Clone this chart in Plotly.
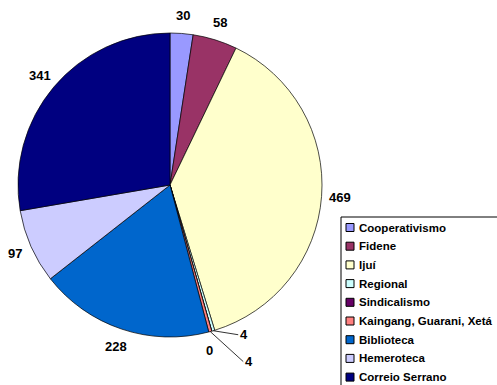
import math
import plotly.graph_objects as go

W, H = 497, 385

categories = ["Cooperativismo", "Fidene", "Ijuí", "Regional", "Sindicalismo",
              "Kaingang, Guarani, Xetá", "Biblioteca", "Hemeroteca", "Correio Serrano"]
values = [30, 58, 469, 4, 0, 4, 228, 97, 341]
colors = ["#9999FF", "#993366", "#FFFFCC", "#CCFFFF", "#660066",
          "#FF8080", "#0066CC", "#CCCCFF", "#000080"]

# pie geometry (pixels)
CX, CY, R = 170, 185, 152
R_LABEL = 170

FONT = "Arial, Liberation Sans, sans-serif"

fig = go.Figure()
fig.add_trace(go.Pie(
    labels=categories, values=values, sort=False, direction="clockwise", rotation=0,
    marker=dict(colors=colors, line=dict(color="black", width=0.7)),
    textinfo="none", hoverinfo="label+value", showlegend=False,
    domain=dict(x=[(CX - R) / W, (CX + R) / W], y=[1 - (CY + R) / H, 1 - (CY - R) / H]),
))

def px(x, y):
    return x / W, 1 - y / H

annotations = []
shapes = []
total = sum(values)
cum = 0
# leader-line offsets (pixels) for tiny slices, keyed by index
small_offsets = {3: (25, 4, True), 4: (-2, 19, False), 5: (33, 30, True)}
for i, v in enumerate(values):
    mid = (cum + v / 2) / total * 2 * math.pi
    cum += v
    s, c = math.sin(mid), math.cos(mid)
    if i in small_offsets:
        dx, dy, arrow = small_offsets[i]
        ex, ey = CX + R * s, CY - R * c
        if arrow:
            x0, y0 = px(ex, ey)
            annotations.append(dict(
                x=x0, y=y0, xref="paper", yref="paper", text="<b>%d</b>" % v,
                showarrow=True, arrowhead=0, arrowwidth=0.8, arrowcolor="black",
                ax=dx, ay=dy, xanchor="left", yanchor="middle",
                font=dict(family=FONT, size=13, color="black")))
        else:
            x0, y0 = px(ex + dx, ey + dy)
            annotations.append(dict(
                x=x0, y=y0, xref="paper", yref="paper", text="<b>%d</b>" % v,
                showarrow=False, xanchor="center", yanchor="middle",
                font=dict(family=FONT, size=13, color="black")))
    else:
        lx, ly = CX + R_LABEL * s, CY - R_LABEL * c
        x0, y0 = px(lx, ly)
        annotations.append(dict(
            x=x0, y=y0, xref="paper", yref="paper", text="<b>%d</b>" % v,
            showarrow=False, xanchor="center", yanchor="middle",
            font=dict(family=FONT, size=13, color="black")))

# custom legend
LX0, LY0 = 341, 217
ROW0, ROWSTEP = 227.5, 18.7
shapes.append(dict(type="rect", xref="paper", yref="paper",
                   x0=LX0 / W, x1=(W + 5) / W, y0=1 - (H + 10) / H, y1=1 - LY0 / H,
                   line=dict(color="black", width=1), fillcolor="white", layer="below"))
for i, (cat, col) in enumerate(zip(categories, colors)):
    yc = ROW0 + i * ROWSTEP
    shapes.append(dict(type="rect", xref="paper", yref="paper",
                       x0=346 / W, x1=354 / W, y0=1 - (yc + 4) / H, y1=1 - (yc - 4) / H,
                       line=dict(color="black", width=1), fillcolor=col))
    annotations.append(dict(x=357 / W, y=1 - yc / H, xref="paper", yref="paper",
                            text="<b>%s</b>" % cat, showarrow=False,
                            xanchor="left", yanchor="middle",
                            font=dict(family=FONT, size=11.5, color="black")))

fig.update_layout(
    width=W, height=H, margin=dict(l=0, r=0, t=0, b=0),
    paper_bgcolor="white", plot_bgcolor="white",
    annotations=annotations, shapes=shapes, showlegend=False,
)
fig.write_html("out.html")
